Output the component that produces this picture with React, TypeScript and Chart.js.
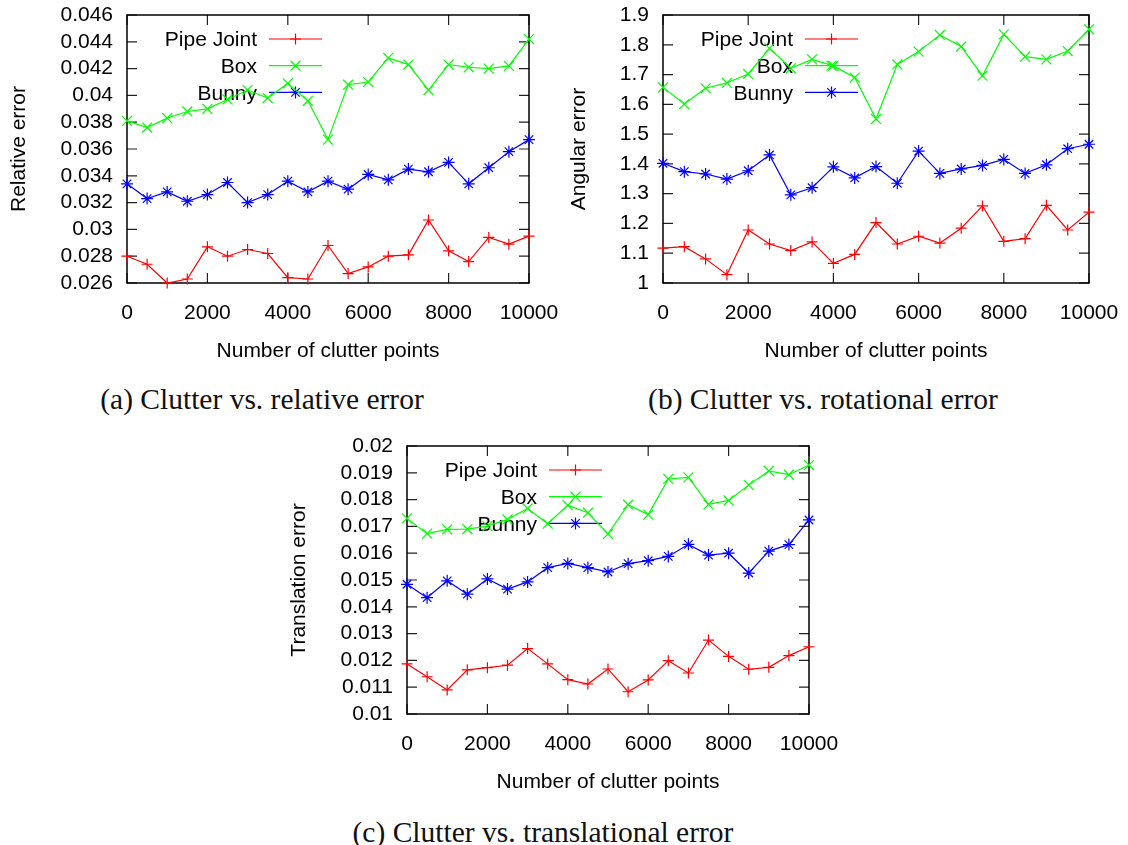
import React, { useEffect, useRef } from 'react';
import { Chart, registerables } from 'chart.js';

Chart.register(...registerables);

// Shared x values: number of clutter points added to the scene
const CLUTTER_POINTS = [
  0, 500, 1000, 1500, 2000, 2500, 3000, 3500, 4000, 4500, 5000,
  5500, 6000, 6500, 7000, 7500, 8000, 8500, 9000, 9500, 10000,
];
const X_TICKS = [0, 2000, 4000, 6000, 8000, 10000];

const SERIES_NAMES = ['Pipe Joint', 'Box', 'Bunny'];
const SERIES_COLORS = ['#ff0000', '#00ff00', '#0000ff'];
const SERIES_MARKERS = ['cross', 'crossRot', 'star'];
const MARKER_RADII = [5.5, 7, 6];

// (a) relative error
const REL_PIPE = [
  0.0280, 0.0274, 0.0260, 0.0263, 0.0287, 0.0280, 0.0285, 0.0282, 0.0264, 0.0263, 0.0288,
  0.0267, 0.0272, 0.0280, 0.0281, 0.0307, 0.0284, 0.0276, 0.0294, 0.0289, 0.0295,
];
const REL_BOX = [
  0.0381, 0.0376, 0.0383, 0.0388, 0.0390, 0.0397, 0.0404, 0.0398, 0.0409, 0.0396, 0.0367,
  0.0408, 0.0410, 0.0428, 0.0423, 0.0404, 0.0423, 0.0421, 0.0420, 0.0422, 0.0442,
];
const REL_BUNNY = [
  0.0334, 0.0323, 0.0328, 0.0321, 0.0326, 0.0335, 0.0320, 0.0326, 0.0336, 0.0328, 0.0336,
  0.0330, 0.0341, 0.0337, 0.0345, 0.0343, 0.0350, 0.0334, 0.0346, 0.0358, 0.0367,
];
const REL_TICKS = [0.026, 0.028, 0.03, 0.032, 0.034, 0.036, 0.038, 0.04, 0.042, 0.044, 0.046];

// (b) angular error
const ANG_PIPE = [
  1.117, 1.122, 1.081, 1.028, 1.178, 1.131, 1.109, 1.138, 1.066, 1.096, 1.203,
  1.131, 1.157, 1.134, 1.184, 1.259, 1.140, 1.149, 1.261, 1.178, 1.238,
];
const ANG_BOX = [
  1.657, 1.601, 1.654, 1.672, 1.702, 1.788, 1.721, 1.751, 1.729, 1.690, 1.551,
  1.734, 1.777, 1.833, 1.794, 1.696, 1.835, 1.760, 1.751, 1.779, 1.852,
];
const ANG_BUNNY = [
  1.402, 1.374, 1.366, 1.349, 1.377, 1.430, 1.296, 1.320, 1.390, 1.353, 1.391,
  1.335, 1.443, 1.368, 1.383, 1.395, 1.415, 1.368, 1.397, 1.451, 1.466,
];
const ANG_TICKS = [1, 1.1, 1.2, 1.3, 1.4, 1.5, 1.6, 1.7, 1.8, 1.9];

// (c) translation error
const TRANS_PIPE = [
  0.01187, 0.01139, 0.01090, 0.01165, 0.01173, 0.01182, 0.01244, 0.01187, 0.01128, 0.01112, 0.01168,
  0.01083, 0.01127, 0.01199, 0.01153, 0.01276, 0.01215, 0.01167, 0.01174, 0.01218, 0.01251,
];
const TRANS_BOX = [
  0.01730, 0.01673, 0.01689, 0.01690, 0.01701, 0.01726, 0.01767, 0.01710, 0.01779, 0.01751, 0.01672,
  0.01781, 0.01744, 0.01877, 0.01883, 0.01782, 0.01797, 0.01854, 0.01907, 0.01893, 0.01929,
];
const TRANS_BUNNY = [
  0.01484, 0.01434, 0.01497, 0.01447, 0.01504, 0.01466, 0.01493, 0.01546, 0.01562, 0.01546, 0.01530,
  0.01561, 0.01572, 0.01588, 0.01633, 0.01593, 0.01600, 0.01526, 0.01608, 0.01632, 0.01724,
];
const TRANS_TICKS = [0.01, 0.011, 0.012, 0.013, 0.014, 0.015, 0.016, 0.017, 0.018, 0.019, 0.02];

const SANS = '"Liberation Sans", Arial, sans-serif';
const TICK_LEN = 10;

function strokeMarker(ctx: CanvasRenderingContext2D, style: string, x: number, y: number, r: number) {
  ctx.beginPath();
  if (style === 'cross' || style === 'star') {
    ctx.moveTo(x - r, y);
    ctx.lineTo(x + r, y);
    ctx.moveTo(x, y - r);
    ctx.lineTo(x, y + r);
  }
  if (style === 'crossRot' || style === 'star') {
    const d = r * Math.SQRT1_2;
    ctx.moveTo(x - d, y - d);
    ctx.lineTo(x + d, y + d);
    ctx.moveTo(x - d, y + d);
    ctx.lineTo(x + d, y - d);
  }
  ctx.stroke();
}

// Box around the plot with inward ticks on all four sides
const framePlugin = {
  id: 'gnuplotFrame',
  beforeDatasetsDraw(chart: any) {
    const { ctx, chartArea } = chart;
    const { left, right, top, bottom } = chartArea;
    const xs = chart.scales.x;
    const ys = chart.scales.y;
    ctx.save();
    ctx.strokeStyle = '#222';
    ctx.lineWidth = 1.2;
    ctx.beginPath();
    for (const t of xs.ticks) {
      const px = xs.getPixelForValue(t.value);
      ctx.moveTo(px, bottom);
      ctx.lineTo(px, bottom - TICK_LEN);
      ctx.moveTo(px, top);
      ctx.lineTo(px, top + TICK_LEN);
    }
    for (const t of ys.ticks) {
      const py = ys.getPixelForValue(t.value);
      ctx.moveTo(left, py);
      ctx.lineTo(left + TICK_LEN, py);
      ctx.moveTo(right, py);
      ctx.lineTo(right - TICK_LEN, py);
    }
    ctx.stroke();
    ctx.strokeStyle = '#000';
    ctx.lineWidth = 1.5;
    ctx.strokeRect(left, top, right - left, bottom - top);
    ctx.restore();
  },
};

// Key in the upper-left corner: right-aligned name, then a line sample with its marker
const keyPlugin = {
  id: 'gnuplotKey',
  beforeDatasetsDraw(chart: any) {
    const { ctx, chartArea } = chart;
    const { left, top } = chartArea;
    ctx.save();
    chart.data.datasets.forEach((ds: any, i: number) => {
      const y = top + 24 + i * 26.7;
      ctx.fillStyle = '#000';
      ctx.font = `21px ${SANS}`;
      ctx.textAlign = 'right';
      ctx.textBaseline = 'middle';
      ctx.fillText(ds.label, left + 130, y + 1.5);
      ctx.strokeStyle = ds.borderColor;
      ctx.lineWidth = 1.2;
      ctx.beginPath();
      ctx.moveTo(left + 142, y);
      ctx.lineTo(left + 195, y);
      ctx.stroke();
      strokeMarker(ctx, ds.pointStyle, left + 168.5, y, ds.pointRadius);
    });
    ctx.restore();
  },
};

const fmtNum = (v: any) => String(parseFloat(Number(v).toFixed(4)));

type PanelProps = {
  left: number;
  top: number;
  width: number;
  height: number;
  yAxisWidth: number;
  padRight: number;
  yTitle: string;
  yTicks: number[];
  series: number[][];
};

function Panel({ left, top, width, height, yAxisWidth, padRight, yTitle, yTicks, series }: PanelProps) {
  const ref = useRef<HTMLCanvasElement>(null);

  useEffect(() => {
    if (!ref.current) return;
    const chart = new Chart(ref.current, {
      type: 'line',
      data: {
        datasets: series.map((vals, i) => ({
          label: SERIES_NAMES[i],
          data: CLUTTER_POINTS.map((x, k) => ({ x, y: vals[k] })),
          borderColor: SERIES_COLORS[i],
          backgroundColor: SERIES_COLORS[i],
          borderWidth: 1.2,
          pointStyle: SERIES_MARKERS[i] as any,
          pointRadius: MARKER_RADII[i],
          pointBorderWidth: 1.2,
          pointBorderColor: SERIES_COLORS[i],
          tension: 0,
          fill: false,
          clip: false as any,
        })),
      },
      options: {
        animation: false,
        responsive: false,
        events: [],
        layout: { padding: { top: 15, right: padRight, bottom: 0, left: 0 } },
        plugins: {
          legend: { display: false },
          tooltip: { enabled: false },
        },
        scales: {
          x: {
            type: 'linear',
            min: X_TICKS[0],
            max: X_TICKS[X_TICKS.length - 1],
            afterBuildTicks: (scale: any) => {
              scale.ticks = X_TICKS.map((value) => ({ value }));
            },
            afterFit: (scale: any) => {
              scale.height = 83;
              scale.paddingLeft = 0;
              scale.paddingRight = 0;
            },
            grid: { display: false, drawTicks: false },
            border: { display: false },
            ticks: {
              autoSkip: false,
              maxRotation: 0,
              padding: 18,
              color: '#000',
              font: { family: SANS, size: 21 },
              callback: (v: any) => String(v),
            },
            title: {
              display: true,
              text: 'Number of clutter points',
              color: '#000',
              font: { family: SANS, size: 21 },
              padding: { top: 0, bottom: 2 },
            },
          },
          y: {
            type: 'linear',
            min: yTicks[0],
            max: yTicks[yTicks.length - 1],
            afterBuildTicks: (scale: any) => {
              scale.ticks = yTicks.map((value) => ({ value }));
            },
            afterFit: (scale: any) => {
              scale.width = yAxisWidth;
              scale.paddingTop = 0;
              scale.paddingBottom = 0;
            },
            grid: { display: false, drawTicks: false },
            border: { display: false },
            ticks: {
              autoSkip: false,
              padding: 14,
              color: '#000',
              font: { family: SANS, size: 21 },
              callback: fmtNum,
            },
            title: {
              display: true,
              text: yTitle,
              color: '#000',
              font: { family: SANS, size: 21 },
              padding: { top: 7, bottom: 0 },
            },
          },
        },
      },
      plugins: [framePlugin, keyPlugin],
    });
    return () => chart.destroy();
  }, []);

  return (
    <canvas
      ref={ref}
      width={width}
      height={height}
      style={{ position: 'absolute', left, top, width, height }}
    />
  );
}

function Caption({ cx, cy, text }: { cx: number; cy: number; text: string }) {
  return (
    <div
      style={{
        position: 'absolute',
        left: cx - 260,
        top: cy - 18,
        width: 520,
        height: 36,
        lineHeight: '36px',
        textAlign: 'center',
        fontFamily: '"Liberation Serif", "Times New Roman", serif',
        fontSize: 29.5,
        color: '#111',
        whiteSpace: 'nowrap',
      }}
    >
      {text}
    </div>
  );
}

export default function App() {
  return (
    <div
      style={{
        position: 'absolute',
        left: 0,
        top: 0,
        width: 1128,
        height: 845,
        background: '#fff',
        overflow: 'hidden',
      }}
    >
      <Panel
        left={0}
        top={0}
        width={559}
        height={366}
        yAxisWidth={127}
        padRight={30}
        yTitle="Relative error"
        yTicks={REL_TICKS}
        series={[REL_PIPE, REL_BOX, REL_BUNNY]}
      />
      <Panel
        left={560}
        top={0}
        width={568}
        height={366}
        yAxisWidth={103}
        padRight={39}
        yTitle="Angular error"
        yTicks={ANG_TICKS}
        series={[ANG_PIPE, ANG_BOX, ANG_BUNNY]}
      />
      <Panel
        left={280}
        top={431}
        width={559}
        height={366}
        yAxisWidth={127}
        padRight={30}
        yTitle="Translation error"
        yTicks={TRANS_TICKS}
        series={[TRANS_PIPE, TRANS_BOX, TRANS_BUNNY]}
      />
      <Caption cx={262} cy={399} text="(a) Clutter vs. relative error" />
      <Caption cx={823} cy={399} text="(b) Clutter vs. rotational error" />
      <Caption cx={543} cy={832} text="(c) Clutter vs. translational error" />
    </div>
  );
}
